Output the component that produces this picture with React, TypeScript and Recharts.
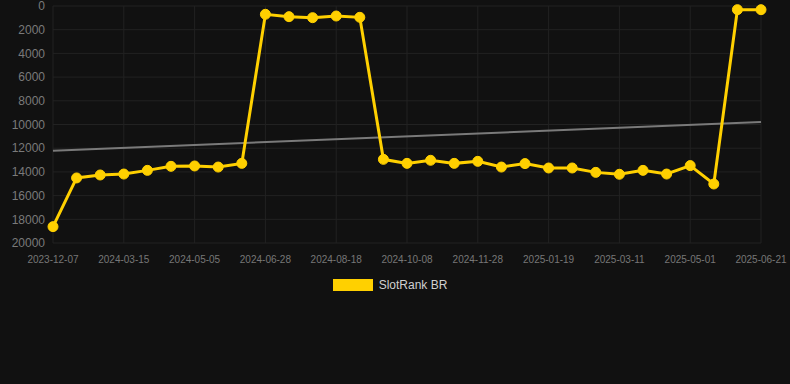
import { CartesianGrid, Legend, Line, LineChart, XAxis, YAxis } from "recharts";

// SlotRank BR rank history (lower is better, so the y axis is reversed)

const dates = [
  "2023-12-07", "2024-02-10", "2024-02-27", "2024-03-15", "2024-04-01",
  "2024-04-18", "2024-05-05", "2024-05-23", "2024-06-10", "2024-06-28",
  "2024-07-15", "2024-08-01", "2024-08-18", "2024-09-04", "2024-09-21",
  "2024-10-08", "2024-10-25", "2024-11-11", "2024-11-28", "2024-12-15",
  "2025-01-01", "2025-01-19", "2025-02-05", "2025-02-22", "2025-03-11",
  "2025-03-28", "2025-04-14", "2025-05-01", "2025-05-18", "2025-06-04",
  "2025-06-21",
];

const rankBR = [
  18620, 14510, 14260, 14180, 13870, 13530, 13500, 13590, 13280, 700,
  900, 985, 845, 955, 12940, 13280, 13020, 13280, 13110, 13590,
  13300, 13670, 13670, 14040, 14200, 13870, 14180, 13470, 15020, 310,
  310,
];

// trend line: only the two end points are known, the rest is drawn straight
const trendStart = 12210;
const trendEnd = 9790;

const yTicks = [0, 2000, 4000, 6000, 8000, 10000, 12000, 14000, 16000, 18000, 20000];

const YELLOW = "#ffd000";
const FONT = "Arial, 'Liberation Sans', Helvetica, sans-serif";

const data = dates.map((date, i) => ({
  date,
  rank: rankBR[i],
  trend: i === 0 ? trendStart : i === dates.length - 1 ? trendEnd : null,
}));

function LegendBox() {
  return (
    <div
      style={{
        display: "flex",
        justifyContent: "center",
        alignItems: "center",
        height: 30,
        paddingLeft: 19,
        paddingBottom: 1,
        boxSizing: "border-box",
        fontFamily: FONT,
        fontSize: 12,
        color: "#d0d0d0",
      }}
    >
      <span style={{ width: 40, height: 12, background: YELLOW, marginRight: 6 }} />
      <span>SlotRank BR</span>
    </div>
  );
}

export default function App() {
  document.body.style.margin = "0";
  document.body.style.background = "#111111";

  return (
    <div style={{ width: 790, height: 384, background: "#111111", fontFamily: FONT }}>
      <LineChart
        width={790}
        height={300}
        data={data}
        margin={{ top: 6, right: 29, bottom: 0, left: 0 }}
      >
        <CartesianGrid stroke="#222222" strokeWidth={1} />
        <XAxis
          dataKey="date"
          interval={2}
          axisLine={false}
          tickLine={false}
          tickSize={6}
          tickMargin={7}
          height={27}
          tick={{ fill: "#777777", fontSize: 10, fontFamily: FONT }}
        />
        <YAxis
          reversed
          domain={[0, 20000]}
          ticks={yTicks}
          interval={0}
          width={53}
          axisLine={false}
          tickLine={false}
          tick={{ fill: "#7a7a7a", fontSize: 12, fontFamily: FONT }}
        />
        <Legend verticalAlign="bottom" content={<LegendBox />} />
        <Line
          dataKey="trend"
          stroke="#7a7a7a"
          strokeWidth={2}
          dot={false}
          connectNulls
          legendType="none"
          isAnimationActive={false}
        />
        <Line
          dataKey="rank"
          name="SlotRank BR"
          stroke={YELLOW}
          strokeWidth={3}
          dot={{ r: 5, fill: YELLOW, stroke: YELLOW, strokeWidth: 1 }}
          activeDot={false}
          isAnimationActive={false}
        />
      </LineChart>
    </div>
  );
}
